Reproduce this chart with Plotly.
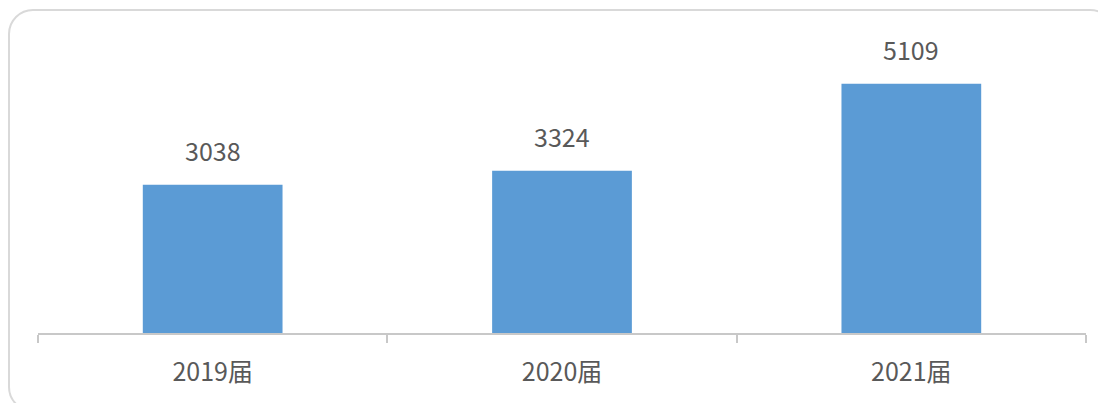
import plotly.graph_objects as go

categories = ["2019届", "2020届", "2021届"]
values = [3038, 3324, 5109]

# The page body adds an 8px offset; figure coords = page coords - 8
OFF = 8
W, H = 1106 - OFF, 403 - OFF
ML, MR, MT, MB = 38 - OFF, 20, 20 - OFF, 70
PW, PH = W - ML - MR, H - MT - MB
YMAX = 6414

def px(x):
    return (x - OFF - ML) / PW

def py(y):
    return (H - MB - (y - OFF)) / PH

def rounded_rect(x0, y0, x1, y1, r):
    k = 0.5523 * r
    pts = []
    pts.append(f"M {px(x0 + r)},{py(y0)}")
    pts.append(f"L {px(x1 - r)},{py(y0)}")
    pts.append(f"C {px(x1 - r + k)},{py(y0)} {px(x1)},{py(y0 + r - k)} {px(x1)},{py(y0 + r)}")
    pts.append(f"L {px(x1)},{py(y1 - r)}")
    pts.append(f"C {px(x1)},{py(y1 - r + k)} {px(x1 - r + k)},{py(y1)} {px(x1 - r)},{py(y1)}")
    pts.append(f"L {px(x0 + r)},{py(y1)}")
    pts.append(f"C {px(x0 + r - k)},{py(y1)} {px(x0)},{py(y1 - r + k)} {px(x0)},{py(y1 - r)}")
    pts.append(f"L {px(x0)},{py(y0 + r)}")
    pts.append(f"C {px(x0)},{py(y0 + r - k)} {px(x0 + r - k)},{py(y0)} {px(x0 + r)},{py(y0)} Z")
    return " ".join(pts)

font_family = "Noto Sans CJK SC"
text_color = "#595959"

fig = go.Figure()
fig.add_trace(go.Bar(
    x=categories, y=values,
    marker=dict(color="#5B9BD5", line=dict(width=0)),
    width=0.4,
    hoverinfo="x+y",
))

for c, v in zip(categories, values):
    fig.add_annotation(
        x=c, y=v, text=str(v), showarrow=False,
        yanchor="middle", yshift=35,
        font=dict(family=font_family, size=25, color=text_color),
    )

fig.add_shape(
    type="path", xref="paper", yref="paper",
    path=rounded_rect(9, 10, 1114, 411, 24),
    line=dict(color="#D9D9D9", width=2),
    fillcolor="rgba(0,0,0,0)", layer="above",
)

fig.update_layout(
    width=W, height=H,
    margin=dict(l=ML, r=MR, t=MT, b=MB),
    paper_bgcolor="white", plot_bgcolor="white",
    showlegend=False,
    font=dict(family=font_family, color=text_color),
    xaxis=dict(
        type="category",
        showline=True, linecolor="#C8C8C8", linewidth=1.5,
        ticks="outside", tickson="boundaries", ticklen=8, tickcolor="#C8C8C8", tickwidth=1.5,
        tickfont=dict(family=font_family, size=25, color=text_color),
        ticklabelstandoff=16,
        showgrid=False, zeroline=False,
        range=[-0.5, 2.5],
    ),
    yaxis=dict(
        range=[0, YMAX], visible=False, showgrid=False, zeroline=False,
    ),
)

fig.write_html("out.html")
